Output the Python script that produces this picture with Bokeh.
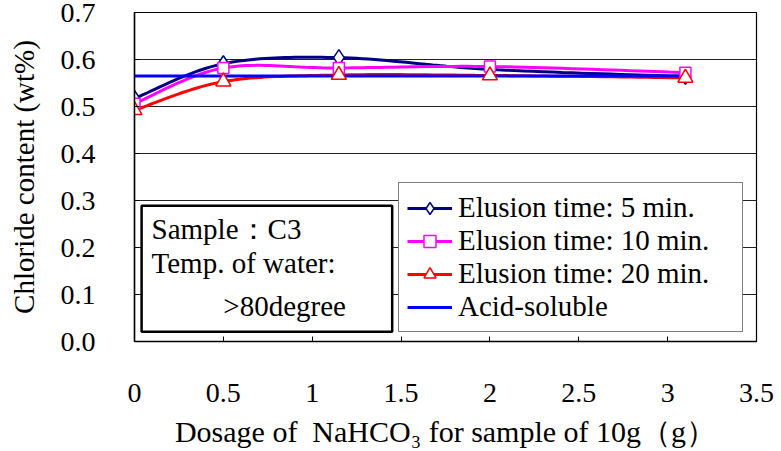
import numpy as np
from bokeh.plotting import figure
from bokeh.models import (Range1d, FixedTicker, BoxAnnotation, Label, Legend,
                          LegendItem)
from bokeh.embed import file_html
from bokeh.resources import INLINE

# ---- data ----
dosage = [0.0, 0.5, 1.15, 2.0, 3.1]
elution_5 = [0.517, 0.591, 0.604, 0.579, 0.564]
elution_10 = [0.506, 0.582, 0.582, 0.585, 0.572]
elution_20 = [0.492, 0.553, 0.567, 0.566, 0.561]
acid_x = [0.0, 3.1]
acid_soluble = [0.565, 0.565]

x_ticks = [0, 0.5, 1, 1.5, 2, 2.5, 3, 3.5]
x_tick_labels = ["0", "0.5", "1", "1.5", "2", "2.5", "3", "3.5"]
y_ticks = [0.0, 0.1, 0.2, 0.3, 0.4, 0.5, 0.6, 0.7]
y_tick_labels = ["0.0", "0.1", "0.2", "0.3", "0.4", "0.5", "0.6", "0.7"]

series_names = ["Elusion time: 5 min.", "Elusion time: 10 min.",
                "Elusion time: 20 min.", "Acid-soluble"]

FONT = "'Liberation Serif', 'Times New Roman', serif"


def smooth(xs, ys, n=24):
    """Excel-like smoothed path (Bezier through the points)."""
    P = np.column_stack([xs, ys]).astype(float)
    P = np.vstack([P[0], P, P[-1]])
    out = []
    for i in range(1, len(P) - 2):
        p0, p1, p2, p3 = P[i - 1], P[i], P[i + 1], P[i + 2]
        c1 = p1 + (p2 - p0) / 6.0
        c2 = p2 - (p3 - p1) / 6.0
        t = np.linspace(0, 1, n)[:, None]
        seg = ((1 - t) ** 3) * p1 + 3 * ((1 - t) ** 2) * t * c1 + 3 * (1 - t) * t ** 2 * c2 + t ** 3 * p2
        out.append(seg if i == 1 else seg[1:])
    s = np.vstack(out)
    return s[:, 0], s[:, 1]


p = figure(width=781, height=451, output_backend="svg", toolbar_location=None,
           x_range=Range1d(0, 3.5), y_range=Range1d(0, 0.7),
           min_border_left=134, min_border_right=25, min_border_top=12,
           min_border_bottom=110)
p.background_fill_color = "white"
p.border_fill_color = "white"
p.outline_line_color = "black"
p.outline_line_width = 1.2

# axes
p.xaxis.ticker = FixedTicker(ticks=x_ticks)
p.xaxis.major_label_overrides = {t: l for t, l in zip(x_ticks, x_tick_labels)}
p.yaxis.ticker = FixedTicker(ticks=y_ticks)
p.yaxis.major_label_overrides = {t: l for t, l in zip(y_ticks, y_tick_labels)}
for ax in (p.xaxis, p.yaxis):
    ax.axis_line_color = "black"
    ax.axis_line_width = 1.5
    ax.major_tick_in = 5
    ax.major_tick_out = 0
    ax.major_tick_line_color = "black"
    ax.minor_tick_line_color = None
    ax.major_label_text_font = FONT
    ax.major_label_text_font_size = "28px"
    ax.major_label_text_color = "black"
    ax.axis_label_text_font = FONT
    ax.axis_label_text_font_style = "normal"
    ax.axis_label_text_color = "black"
p.xaxis.axis_label_text_font_size = "30px"
p.yaxis.axis_label_text_font_size = "29px"
p.xaxis.major_label_standoff = 42
p.yaxis.major_label_standoff = 39
p.xaxis.axis_label = "Dosage of \u00a0NaHCO\u2083 for sample of 10g\uff08g\uff09"
p.yaxis.axis_label = "Chloride content (wt%)"
p.xaxis.axis_label_standoff = 10
p.yaxis.axis_label_standoff = 18

p.xgrid.grid_line_color = None
p.ygrid.ticker = FixedTicker(ticks=y_ticks)
p.ygrid.grid_line_color = "#222222"
p.ygrid.grid_line_width = 1

# lines
sx, sy = smooth(dosage, elution_5)
l5 = p.line(sx, sy, line_color="#000080", line_width=3)
sx, sy = smooth(dosage, elution_10)
l10 = p.line(sx, sy, line_color="#FF00FF", line_width=3)
sx, sy = smooth(dosage, elution_20)
l20 = p.line(sx, sy, line_color="#FF0000", line_width=3)
la = p.line(acid_x, acid_soluble, line_color="#0000FF", line_width=3)

# markers
m5 = p.scatter(dosage, elution_5, marker="diamond", size=16,
               fill_color="white", line_color="#000080", line_width=1.5)
m10 = p.scatter(dosage, elution_10, marker="square", size=11,
                fill_color="white", line_color="#FF00FF", line_width=1.5)
m20 = p.scatter(dosage, elution_20, marker="triangle", size=15,
                fill_color="white", line_color="#FF0000", line_width=1.5)

# info box
box = BoxAnnotation(left=0.04, right=1.45, bottom=0.021, top=0.289,
                    fill_color="white", fill_alpha=1.0,
                    line_color="black", line_width=2.5, line_alpha=1.0)
p.add_layout(box)
for txt, x, y in [("Sample\uff1aC3", 0.096, 0.240),
                  ("Temp. of water:", 0.096, 0.166),
                  (">80degree", 0.50, 0.075)]:
    p.add_layout(Label(x=x, y=y, text=txt, text_font=FONT,
                       text_font_size="29px", text_color="black",
                       text_align="left", text_baseline="middle"))

legend = Legend(items=[LegendItem(label=series_names[0], renderers=[l5, m5]),
                       LegendItem(label=series_names[1], renderers=[l10, m10]),
                       LegendItem(label=series_names[2], renderers=[l20, m20]),
                       LegendItem(label=series_names[3], renderers=[la])],
                location=(264, 9), margin=0, padding=8, spacing=0,
                glyph_width=45, glyph_height=30, label_height=30,
                label_width=276,
                label_standoff=6, label_text_font=FONT,
                label_text_font_size="29px", label_text_color="black",
                border_line_color="black", border_line_width=1,
                background_fill_color="white", background_fill_alpha=1.0)
p.add_layout(legend)

open("out.html", "w").write(file_html(p, INLINE))
